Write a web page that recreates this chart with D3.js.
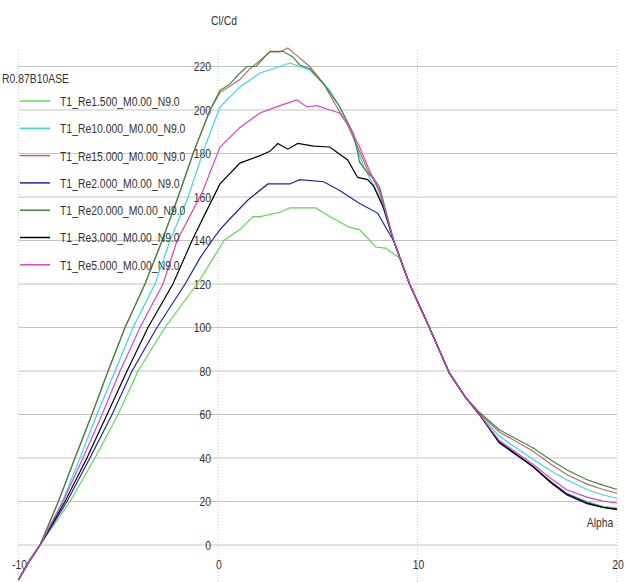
<!DOCTYPE html>
<html><head><meta charset="utf-8">
<script src="https://cdn.jsdelivr.net/npm/d3@7"></script>
<style>
html,body{margin:0;padding:0;background:#fff;}
svg{display:block;}
text{font-family:"Liberation Sans",Arial,sans-serif;fill:#333;}
</style></head>
<body>
<svg id="chart" width="628" height="582"></svg>
<script>
// ---- data (alpha [deg], Cl/Cd) ----
const seriesNames = ["T1_Re1.500_M0.00_N9.0","T1_Re10.000_M0.00_N9.0","T1_Re15.000_M0.00_N9.0","T1_Re2.000_M0.00_N9.0","T1_Re20.000_M0.00_N9.0","T1_Re3.000_M0.00_N9.0","T1_Re5.000_M0.00_N9.0"];
const seriesColors = ["#5ddb4f","#33dddd","#c06868","#2323b0","#3c8c3c","#000000","#e040d0"];
const legendTitle = "R0.87B10ASE";
const xTicks = [-10,0,10,20];
const yTicks = [0,20,40,60,80,100,120,140,160,180,200,220];

const re1_5 = [[-10,-16],[-9.5,-8],[-8.92,0],[-7.42,20],[-6.17,40],[-5.01,60],[-4.01,80],[-2.66,100],[-1.05,120],[-0.5,128],[0.3,140],[0.75,143],[1.1,145],[1.75,151],[2.1,151],[3.1,153],[3.6,155],[4.9,155],[5.6,151],[6.6,146],[7.1,145],[7.9,137],[8.4,136.5],[9.1,132],[9.6,120],[10.5,102],[11.6,79],[12.4,68],[13.1,60],[14.1,47],[15.8,36],[16.7,29],[17.5,23.5],[18.5,20],[19.3,17.8],[20,17]];
const re10 = [[-10,-16],[-9.5,-8],[-8.92,0],[-7.8,20],[-6.92,40],[-6.07,60],[-5.16,80],[-4.26,100],[-3.16,120],[-2.4,140],[-1.5,160],[-0.7,182],[0.1,201.5],[1.1,210.6],[2.1,217],[3.1,220],[3.6,221.6],[4.1,220],[4.6,218.4],[5.6,209],[6.1,201.5],[6.6,192],[7.0,181.6],[7.3,174],[7.6,169],[8.1,160],[8.8,140],[9.6,120],[10.5,102],[11.6,79],[12.4,68],[13.1,60],[14.1,50],[15.8,39.3],[16.7,34],[17.5,29.9],[18.5,25.5],[19.3,23],[20,21.5]];
const re15 = [[-10,-16],[-9.5,-8],[-8.92,0],[-8.0,20],[-7.17,40],[-6.32,60],[-5.51,80],[-4.66,100],[-3.66,120],[-2.8,140],[-2.0,160],[-1.25,180],[-0.4,200],[0.1,208],[1.1,214],[1.6,219],[2.0,222],[2.6,226.7],[3.1,226.7],[3.5,228.5],[3.95,225],[4.6,220],[5.3,212],[5.95,201.5],[6.45,194],[7.0,183],[7.5,172.4],[7.8,168],[8.1,162],[8.8,140],[9.6,120],[10.5,102],[11.6,79],[12.4,68],[13.1,60.5],[14.1,52],[15.8,43.1],[16.7,37],[17.5,32.3],[18.5,28],[19.3,25.5],[20,23.8]];
const re2 = [[-10,-16],[-9.5,-8],[-8.92,0],[-7.57,20],[-6.42,40],[-5.31,60],[-4.31,80],[-3.06,100],[-1.65,120],[-0.9,132],[-0.3,140],[0.1,145],[0.6,150],[1.5,158.6],[2.5,166],[3.6,166],[4.1,168],[5.3,167],[6.1,163],[7.1,157],[8.0,152.6],[8.6,143],[8.8,140],[9.6,120],[10.5,102],[11.6,79],[12.4,68],[13.1,60],[14.1,47.5],[15.8,36],[16.7,29],[17.5,23.5],[18.5,19.5],[19.3,17.3],[20,16.3]];
const re20 = [[-10,-16],[-9.5,-8],[-8.92,0],[-8.0,20],[-7.17,40],[-6.32,60],[-5.51,80],[-4.66,100],[-3.66,120],[-2.8,140],[-2.0,160],[-1.25,180],[-0.4,200],[0.1,209],[0.6,212],[1.1,217],[1.45,220],[1.9,220],[2.3,224],[2.6,227],[3.25,227],[3.75,224.4],[4.1,220.7],[4.6,219],[5.3,212],[6.1,201.5],[6.8,189],[7.1,176],[7.5,171],[7.8,168.7],[8.1,164.6],[8.8,140],[9.6,120],[10.5,102],[11.6,79],[12.4,68],[13.1,61],[14.1,53],[15.0,48.5],[15.8,44.6],[16.7,39],[17.5,34.5],[18.5,30],[19.3,27.5],[20,25.5]];
const re3 = [[-10,-16],[-9.5,-8],[-8.92,0],[-7.67,20],[-6.57,40],[-5.56,60],[-4.56,80],[-3.51,100],[-2.26,120],[-1.3,140],[-0.5,155],[0.1,166],[1.1,175.6],[2.1,179],[2.6,181],[3.0,184.6],[3.5,182],[4.0,184.6],[4.8,183.4],[5.6,183],[6.5,177],[7.0,169],[7.5,168],[7.8,165],[8.3,155],[8.8,140],[9.6,120],[10.5,102],[11.6,79],[12.4,68],[13.1,60],[14.1,47],[15.8,36],[16.7,28.5],[17.5,23],[18.5,19],[19.3,17.3],[20,16.5]];
const re5 = [[-10,-16],[-9.5,-8],[-8.92,0],[-7.77,20],[-6.77,40],[-5.81,60],[-4.91,80],[-3.91,100],[-2.76,120],[-2.05,140],[-0.8,162],[0.1,183],[1.1,192],[2.1,198.6],[3.1,202],[3.95,204.6],[4.45,201.5],[4.95,202],[5.6,200],[6.1,198.6],[6.6,192],[7.1,183],[7.6,172],[8.1,163],[8.8,140],[9.6,120],[10.5,102],[11.6,79],[12.4,68],[13.1,60],[14.1,48],[15.8,37],[16.7,30.5],[17.5,25.3],[18.5,22],[19.3,20.2],[20,19.3]];
const seriesData = [re1_5, re10, re15, re2, re20, re3, re5];

// ---- drawing ----
const svg = d3.select("#chart");
const x = d3.scaleLinear().domain([-10, 20]).range([18.5, 617]);
const y = d3.scaleLinear().domain([0, 220]).range([545, 66.5]);
const yTopPx = 50, yBotPx = 582;

// horizontal grid
svg.append("g").selectAll("line").data(yTicks).join("line")
  .attr("x1", x(-10)).attr("x2", x(20))
  .attr("y1", d => y(d)).attr("y2", d => y(d))
  .attr("stroke", "#c4c4c4").attr("stroke-width", 1);

// vertical grid (dotted)
svg.append("g").selectAll("line").data(xTicks).join("line")
  .attr("x1", d => x(d)).attr("x2", d => x(d))
  .attr("y1", yTopPx).attr("y2", yBotPx)
  .attr("stroke", "#c8c8c8").attr("stroke-width", 1)
  .attr("stroke-dasharray", "1,2");

// y tick labels
svg.append("g").selectAll("text").data(yTicks).join("text")
  .attr("transform", d => `translate(211,${y(d)}) scale(0.8,1)`)
  .attr("text-anchor", "end").attr("dominant-baseline", "central")
  .attr("font-size", 13).text(d => d);

// x tick labels
svg.append("g").selectAll("text").data(xTicks).join("text")
  .attr("transform", d => `translate(${x(d) + 1},564) scale(0.8,1)`)
  .attr("text-anchor", "middle").attr("dominant-baseline", "central")
  .attr("font-size", 13).text(d => d);

// axis titles
svg.append("text").attr("transform", "translate(224,20) scale(0.8,1)")
  .attr("text-anchor", "middle").attr("dominant-baseline", "central")
  .attr("font-size", 13).text("Cl/Cd");
svg.append("text").attr("transform", "translate(600,522) scale(0.8,1)")
  .attr("text-anchor", "middle").attr("dominant-baseline", "central")
  .attr("font-size", 13).text("Alpha");

// curves
const line = d3.line().x(d => x(d[0])).y(d => y(d[1])).curve(d3.curveLinear);
svg.append("g").selectAll("path").data(seriesData).join("path")
  .attr("d", line).attr("fill", "none")
  .attr("stroke", (d, i) => seriesColors[i]).attr("stroke-width", 1.2);

// legend
svg.append("text").attr("transform", "translate(2,78) scale(0.8,1)")
  .attr("dominant-baseline", "central").attr("font-size", 13).text(legendTitle);
const lg = svg.append("g").selectAll("g").data(seriesNames).join("g")
  .attr("transform", (d, i) => `translate(0,${101 + i * 27.3})`);
lg.append("line").attr("x1", 20).attr("x2", 50).attr("y1", 0).attr("y2", 0)
  .attr("stroke", (d, i) => seriesColors[i]).attr("stroke-width", 1.5);
lg.append("text").attr("transform", "translate(60,0) scale(0.8,1)")
  .attr("dominant-baseline", "central").attr("font-size", 13).text(d => d);
</script>
</body></html>
